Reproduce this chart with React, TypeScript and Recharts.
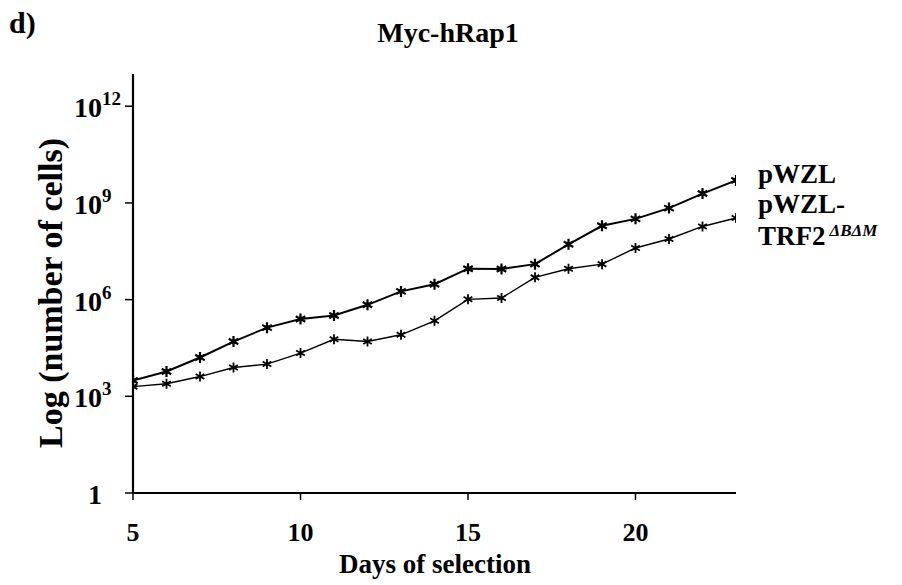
import React from 'react';
import { LineChart, Line, XAxis, YAxis } from 'recharts';

// days of selection and cumulative cell counts per culture
const days = [5, 6, 7, 8, 9, 10, 11, 12, 13, 14, 15, 16, 17, 18, 19, 20, 21, 22, 23];
const pwzlCells = [
  3.1e3, 5.9e3, 1.6e4, 5.0e4, 1.35e5, 2.5e5, 3.2e5, 6.9e5, 1.8e6, 3.0e6,
  9.1e6, 8.9e6, 1.26e7, 5.2e7, 1.95e8, 3.2e8, 6.9e8, 1.95e9, 5.0e9,
];
const trf2Cells = [
  2.0e3, 2.45e3, 4.1e3, 7.8e3, 1.0e4, 2.2e4, 5.9e4, 5.0e4, 8.1e4, 2.2e5,
  1.02e6, 1.12e6, 4.9e6, 9.1e6, 1.26e7, 4.0e7, 7.6e7, 1.86e8, 3.4e8,
];
const xTicks = [5, 10, 15, 20];
const yTicks = [1, 1e3, 1e6, 1e9, 1e12];
const yTickExponents = ['', '3', '6', '9', '12'];
const seriesNames = ['pWZL', 'pWZL-', 'TRF2'];
const mutantSuffix = 'ΔBΔM';

const data = days.map((day, i) => ({ day, pwzl: pwzlCells[i], trf2: trf2Cells[i] }));

const FONT = '"Liberation Serif", "Times New Roman", serif';

function starPath(cx: number, cy: number, r: number) {
  return [0, 60, 120]
    .map((a) => {
      const rad = (a * Math.PI) / 180;
      const dx = Math.sin(rad) * r;
      const dy = Math.cos(rad) * r;
      return `M${cx - dx},${cy - dy}L${cx + dx},${cy + dy}`;
    })
    .join('');
}

function StarDot(props: any) {
  const { cx, cy } = props;
  if (cx == null || cy == null) return null;
  return (
    <g>
      <path d={starPath(cx, cy, 5.5)} stroke="#000" strokeWidth={2.2} />
      <circle cx={cx} cy={cy} r={2.4} fill="#000" />
    </g>
  );
}

function CrossDot(props: any) {
  const { cx, cy } = props;
  if (cx == null || cy == null) return null;
  return (
    <g>
      <path d={starPath(cx, cy, 5)} stroke="#000" strokeWidth={1.8} />
      <circle cx={cx} cy={cy} r={1.6} fill="#000" />
    </g>
  );
}

function XTick(props: any) {
  const { x, y, payload } = props;
  return (
    <text x={x} y={y + 39} textAnchor="middle" fontFamily={FONT} fontWeight="bold" fontSize={26} fill="#000">
      {payload.value}
    </text>
  );
}

function YTick(props: any) {
  const { y, index } = props;
  const exp = yTickExponents[index] ?? '';
  const base = exp ? '10' : '1';
  return (
    <g>
      <text x={102} y={y + 11} textAnchor="end" fontFamily={FONT} fontWeight="bold" fontSize={28} fill="#000">
        {base}
      </text>
      {exp && (
        <text x={102} y={y - 1} textAnchor="start" fontFamily={FONT} fontWeight="bold" fontSize={19} fill="#000">
          {exp}
        </text>
      )}
    </g>
  );
}

export default function App() {
  return (
    <div style={{ position: 'absolute', left: 0, top: 0, width: 902, height: 585, background: '#fff' }}>
      <LineChart width={902} height={585} data={data} margin={{ top: 74, right: 166, left: 0, bottom: 0 }}>
        <XAxis
          dataKey="day"
          type="number"
          domain={[5, 23]}
          ticks={xTicks}
          height={92}
          tickSize={7}
          tickMargin={2}
          stroke="#000"
          axisLine={{ stroke: '#000', strokeWidth: 2.2 }}
          tickLine={{ stroke: '#000', strokeWidth: 1.5 }}
          tick={<XTick />}
          allowDataOverflow
        />
        <YAxis
          scale="log"
          type="number"
          domain={[1, 1e13]}
          ticks={yTicks}
          width={133}
          tickSize={8}
          stroke="#000"
          axisLine={{ stroke: '#000', strokeWidth: 2.2 }}
          tickLine={{ stroke: '#000', strokeWidth: 1.5 }}
          tick={<YTick />}
          allowDataOverflow
        />
        <Line
          dataKey="pwzl"
          type="linear"
          stroke="#000"
          strokeWidth={2}
          dot={<StarDot />}
          activeDot={false}
          isAnimationActive={false}
        />
        <Line
          dataKey="trf2"
          type="linear"
          stroke="#000"
          strokeWidth={1.4}
          dot={<CrossDot />}
          activeDot={false}
          isAnimationActive={false}
        />
      </LineChart>
      <svg
        width={902}
        height={585}
        style={{ position: 'absolute', left: 0, top: 0, pointerEvents: 'none' }}
        fontFamily={FONT}
        fontWeight="bold"
        fill="#000"
      >
        <text x={9} y={33} fontSize={30}>d)</text>
        <text x={448} y={42} fontSize={28} textAnchor="middle">Myc-hRap1</text>
        <text x={435} y={573} fontSize={27} textAnchor="middle">Days of selection</text>
        <text transform="translate(62,293) rotate(-90)" fontSize={34} textAnchor="middle">
          Log (number of cells)
        </text>
        <text x={758} y={183} fontSize={27}>{seriesNames[0]}</text>
        <text x={758} y={213} fontSize={27}>{seriesNames[1]}</text>
        <text x={758} y={245} fontSize={27}>
          {seriesNames[2]}
          <tspan dx={4} dy={-9} fontSize={17} fontStyle="italic">{mutantSuffix}</tspan>
        </text>
      </svg>
    </div>
  );
}
